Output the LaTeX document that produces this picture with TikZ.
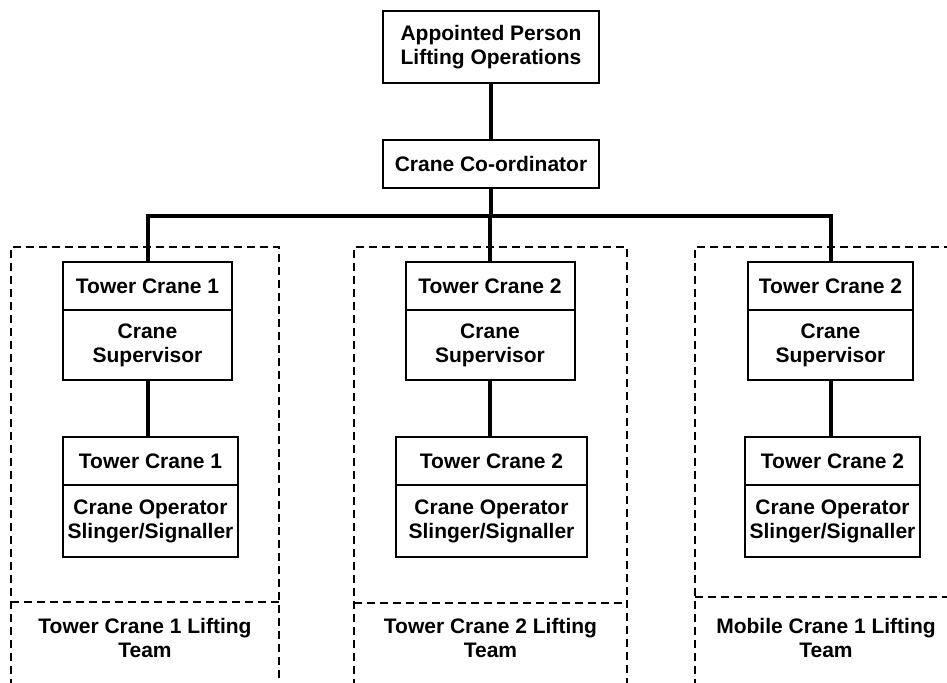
\documentclass[tikz,border=0pt]{standalone}
\usepackage{fontspec}
\setmainfont{Liberation Sans}
\usetikzlibrary{positioning}
\tikzset{
  box/.style={draw, line width=1pt, inner sep=0pt, outer sep=0pt, align=center,
    font=\bfseries\fontsize{10.5}{12}\selectfont},
  headbox/.style={box, minimum height=24pt},
  bodybox/.style={box, minimum height=35pt},
  conn/.style={line width=2pt},
  team/.style={line width=0.75pt, dash pattern=on 4pt off 2.5pt},
  teamlabel/.style={align=center, inner sep=0pt, font=\bfseries\fontsize{10.5}{12}\selectfont},
}
\begin{document}
\begin{tikzpicture}[x=0.5pt,y=-0.5pt]
  \useasboundingbox (0,0) rectangle (947,682);
  \clip (0,0) rectangle (947,682);
  % Lifting teams
  \draw[team] (11,700) -- (11,247) -- (279,247) -- (279,700);
  \draw[team] (11,602) -- (279,602);
  \draw[team] (354,700) -- (354,247) -- (627,247) -- (627,700);
  \draw[team] (354,603) -- (627,603);
  \draw[team] (695,700) -- (695,247) -- (960,247);
  \draw[team] (695,597) -- (960,597);
  \node[teamlabel] (team1) at (145,638) {Tower Crane 1 Lifting\\Team};
  \node[teamlabel] (team2) at (490.5,638) {Tower Crane 2 Lifting\\Team};
  \node[teamlabel] (team3) at (826,638) {Mobile Crane 1 Lifting\\Team};
  % Top of the chart
  \node[box, minimum width=108pt, minimum height=36pt] (ap) at (491,47) {Appointed Person\\Lifting Operations};
  \node[headbox, minimum width=108pt] (cc) at (491,164) {Crane Co-ordinator};
  % Supervisors
  \node[headbox, minimum width=84.5pt] (tc1a) at (147.5,286) {Tower Crane 1};
  \node[bodybox, minimum width=84.5pt, below=0pt of tc1a] (sup1) {Crane\\Supervisor};
  \node[headbox, minimum width=84.5pt] (tc2a) at (490,286) {Tower Crane 2};
  \node[bodybox, minimum width=84.5pt, below=0pt of tc2a] (sup2) {Crane\\Supervisor};
  \node[headbox, minimum width=82.5pt] (mc1a) at (830.5,286) {Tower Crane 2};
  \node[bodybox, minimum width=82.5pt, below=0pt of mc1a] (sup3) {Crane\\Supervisor};
  % Operators
  \node[headbox, minimum width=87.5pt] (tc1b) at (150.5,461) {Tower Crane 1};
  \node[bodybox, minimum width=87.5pt, minimum height=36pt, below=0pt of tc1b] (op1) {Crane Operator\\Slinger/Signaller};
  \node[headbox, minimum width=95.5pt] (tc2b) at (491.5,461) {Tower Crane 2};
  \node[bodybox, minimum width=95.5pt, minimum height=36pt, below=0pt of tc2b] (op2) {Crane Operator\\Slinger/Signaller};
  \node[headbox, minimum width=87.5pt] (mc1b) at (832.5,461) {Tower Crane 2};
  \node[bodybox, minimum width=87.5pt, minimum height=36pt, below=0pt of mc1b] (op3) {Crane Operator\\Slinger/Signaller};
  % Connectors
  \coordinate (bar) at (491,216);
  \draw[conn] (ap) -- (cc);
  \draw[conn] (cc) -- (cc.south |- bar);
  \draw[conn] (tc1a.north) |- (bar) -| (mc1a.north);
  \draw[conn] (tc2a.north |- bar) -- (tc2a.north);
  \draw[conn] (sup1) -- (tc1b.north -| sup1.south);
  \draw[conn] (sup2) -- (tc2b.north -| sup2.south);
  \draw[conn] (sup3) -- (mc1b.north -| sup3.south);
\end{tikzpicture}
\end{document}
